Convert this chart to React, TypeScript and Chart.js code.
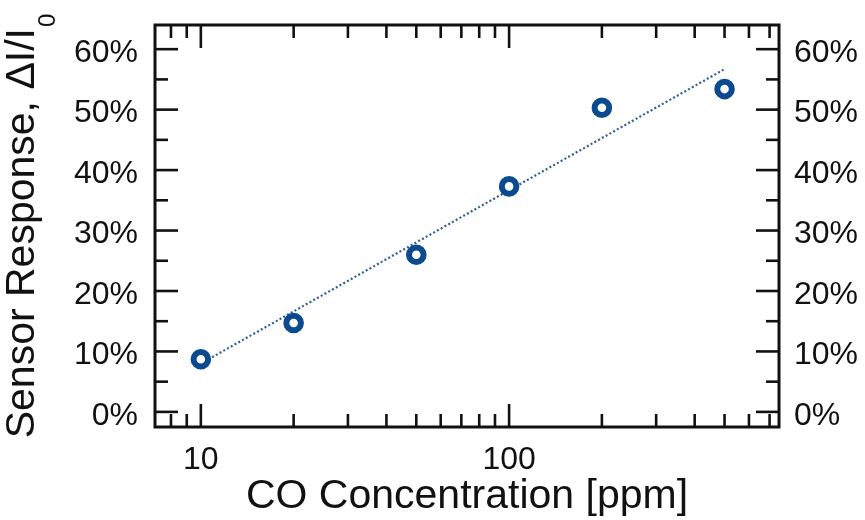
import { useEffect, useRef } from "react";
import { Chart, registerables } from "chart.js";

Chart.register(...registerables);

// Measured sensor response vs. CO concentration
const concentrations = [10, 20, 50, 100, 200, 500];
const responses = [8.7, 14.7, 26.0, 37.3, 50.3, 53.4];

// Logarithmic trend line end points
const fitConcentrations = [10, 500];
const fitResponses = [8.0, 56.7];

// Axis tick positions (values in axis units)
const xMajorTicks = [10, 100];
const xMinorTicks = [8, 9, 20, 30, 40, 50, 60, 70, 80, 90, 200, 300, 400, 500, 600, 700];
const yMajorTicks = [0, 10, 20, 30, 40, 50, 60];
const yMinorTicks = [5, 15, 25, 35, 45, 55];

const FONT = "'Liberation Sans', Arial, Helvetica, sans-serif";
const INK = "#111111";
const MARKER = "#0b4a8e";
const FIT = "#2f5f9a";

const X_TITLE = "CO Concentration [ppm]";
const Y_TITLE = "Sensor Response, \u0394I/I";
const Y_TITLE_SUB = "0";

// Box frame with inward major/minor ticks on all four sides
const framePlugin = {
  id: "frame",
  afterDraw(chart: any) {
    const { ctx, chartArea: a, scales } = chart;
    const xs = scales.x;
    const ys = scales.y;
    const MAJOR = 23;
    const MINOR = 13;
    const seg = (x1: number, y1: number, x2: number, y2: number) => {
      ctx.beginPath();
      ctx.moveTo(x1, y1);
      ctx.lineTo(x2, y2);
      ctx.stroke();
    };
    ctx.save();
    ctx.strokeStyle = INK;
    ctx.lineCap = "butt";
    ctx.lineWidth = 2.6;
    const xTick = (v: number, len: number) => {
      const px = xs.getPixelForValue(v);
      if (px < a.left || px > a.right) return;
      seg(px, a.bottom, px, a.bottom - len);
      seg(px, a.top, px, a.top + len);
    };
    const yTick = (v: number, len: number) => {
      const py = ys.getPixelForValue(v);
      if (py < a.top || py > a.bottom) return;
      seg(a.left, py, a.left + len, py);
      seg(a.right, py, a.right - len, py);
    };
    xMajorTicks.forEach((v) => xTick(v, MAJOR));
    xMinorTicks.forEach((v) => xTick(v, MINOR));
    yMajorTicks.forEach((v) => yTick(v, MAJOR));
    yMinorTicks.forEach((v) => yTick(v, MINOR));
    ctx.lineWidth = 3;
    ctx.strokeRect(a.left, a.top, a.right - a.left, a.bottom - a.top);
    ctx.restore();
  },
};

// Axis titles, including the subscript in the y title
const titlesPlugin = {
  id: "titles",
  afterDraw(chart: any) {
    const { ctx, chartArea: a } = chart;
    ctx.save();
    ctx.fillStyle = INK;
    ctx.textBaseline = "alphabetic";

    ctx.font = `41px ${FONT}`;
    ctx.textAlign = "center";
    ctx.fillText(X_TITLE, (a.left + a.right) / 2, 508);

    ctx.translate(34, (a.top + a.bottom) / 2);
    ctx.rotate(-Math.PI / 2);
    ctx.textAlign = "left";
    ctx.font = `41px ${FONT}`;
    const wMain = ctx.measureText(Y_TITLE).width;
    ctx.font = `24px ${FONT}`;
    const wSub = ctx.measureText(Y_TITLE_SUB).width;
    const start = -(wMain + wSub + 1) / 2;
    ctx.font = `41px ${FONT}`;
    ctx.fillText(Y_TITLE, start, 0);
    ctx.font = `24px ${FONT}`;
    ctx.fillText(Y_TITLE_SUB, start + wMain + 1, 21);
    ctx.restore();
  },
};

export default function App() {
  const canvasRef = useRef<HTMLCanvasElement | null>(null);

  useEffect(() => {
    const canvas = canvasRef.current;
    if (!canvas) return;

    const tickFont = { family: FONT, size: 32 };
    const yTickSetup = (s: any) => {
      s.ticks = yMajorTicks.map((v) => ({ value: v }));
    };
    const fitVertical = (width: number) => (s: any) => {
      s.width = width;
      s.paddingTop = 0;
      s.paddingBottom = 0;
    };

    const chart = new Chart(canvas, {
      type: "scatter",
      data: {
        datasets: [
          {
            label: "Measured",
            data: concentrations.map((c, i) => ({ x: c, y: responses[i] })),
            showLine: false,
            pointRadius: 7.3,
            pointHoverRadius: 7.3,
            pointBorderWidth: 6,
            pointBorderColor: MARKER,
            pointBackgroundColor: "#ffffff",
          },
          {
            label: "Fit",
            data: fitConcentrations.map((c, i) => ({ x: c, y: fitResponses[i] })),
            showLine: true,
            borderColor: FIT,
            borderWidth: 2.2,
            borderDash: [2, 2.3],
            pointRadius: 0,
            fill: false,
          },
        ],
      },
      options: {
        responsive: false,
        animation: false,
        layout: { padding: { top: 25, left: 0, right: 0, bottom: 0 } },
        plugins: {
          legend: { display: false },
          tooltip: { enabled: false },
        },
        scales: {
          x: {
            type: "logarithmic",
            position: "bottom",
            min: 7.1,
            max: 751,
            afterBuildTicks: (s: any) => {
              s.ticks = xMajorTicks.map((v) => ({ value: v }));
            },
            afterFit: (s: any) => {
              s.height = 93;
              s.paddingLeft = 0;
              s.paddingRight = 0;
            },
            grid: { display: false, drawTicks: false },
            border: { display: false },
            ticks: {
              font: tickFont,
              color: INK,
              padding: 14,
              maxRotation: 0,
              autoSkip: false,
              callback: (v: any) => String(v),
            },
          },
          y: {
            type: "linear",
            position: "left",
            min: -2.5,
            max: 64,
            afterBuildTicks: yTickSetup,
            afterFit: fitVertical(155),
            grid: { display: false, drawTicks: false },
            border: { display: false },
            ticks: {
              font: tickFont,
              color: INK,
              padding: 17,
              labelOffset: 4,
              callback: (v: any) => `${v}%`,
            },
          },
          y2: {
            type: "linear",
            position: "right",
            min: -2.5,
            max: 64,
            afterBuildTicks: yTickSetup,
            afterFit: fitVertical(86),
            grid: { display: false, drawTicks: false },
            border: { display: false },
            ticks: {
              font: tickFont,
              color: INK,
              padding: 15,
              labelOffset: 4,
              callback: (v: any) => `${v}%`,
            },
          },
        },
      },
      plugins: [framePlugin, titlesPlugin],
    });

    return () => chart.destroy();
  }, []);

  return (
    <div style={{ position: "fixed", left: 0, top: 0, width: 865, height: 520, background: "#ffffff" }}>
      <canvas ref={canvasRef} width={865} height={520} style={{ display: "block" }} />
    </div>
  );
}
